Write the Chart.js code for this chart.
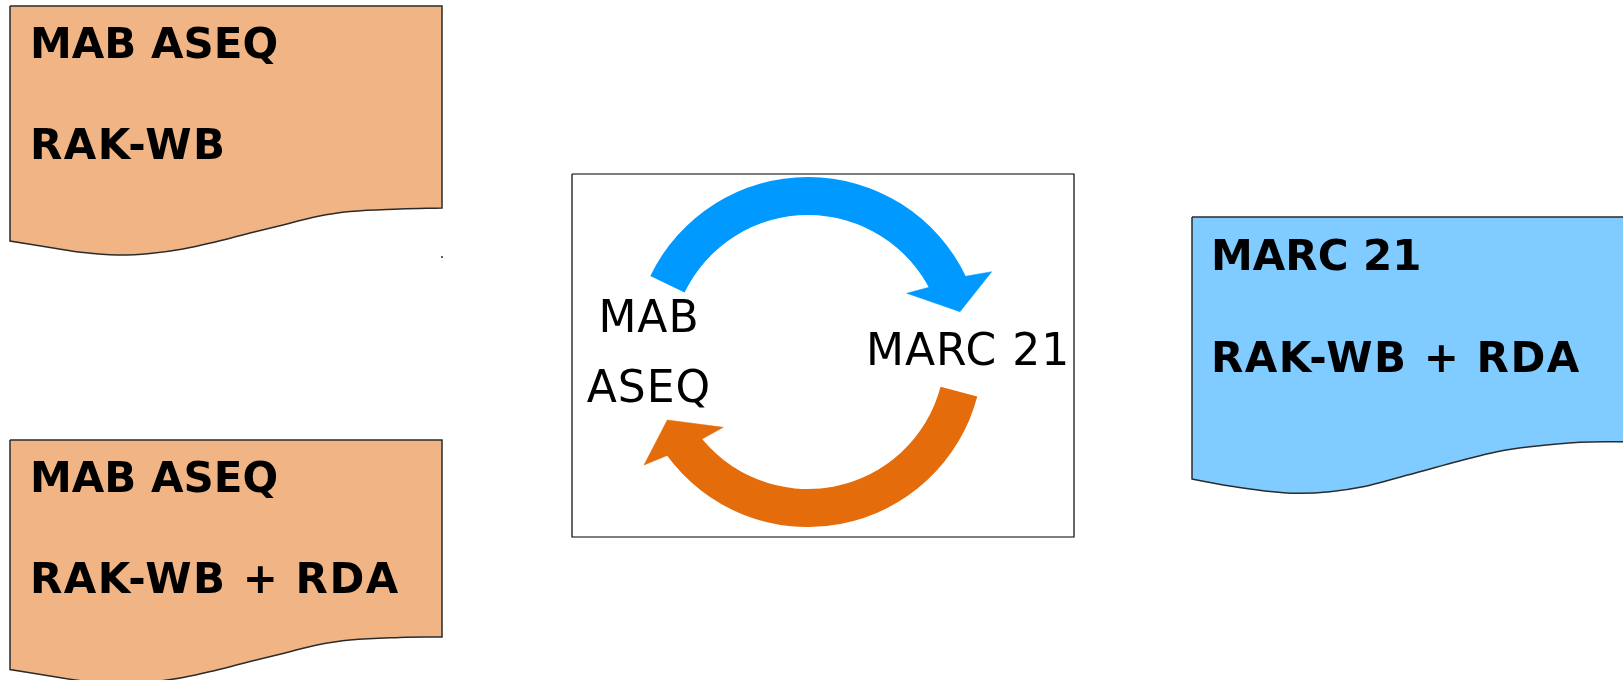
<!DOCTYPE html>
<html>
<head>
<meta charset="utf-8">
<script src="https://cdn.jsdelivr.net/npm/chart.js@4.4.1/dist/chart.umd.min.js"></script>
<style>
  html, body { margin: 0; padding: 0; background: #fff; }
  #wrap { position: relative; width: 1623px; height: 680px; overflow: hidden; }
  #main { position: absolute; left: 0; top: 0; }
  #cycle { position: absolute; left: 633px; top: 177px; }
</style>
</head>
<body>
<div id="wrap">
  <canvas id="main" width="1623" height="680"></canvas>
  <canvas id="cycle" width="350" height="350"></canvas>
</div>
<script>
// outlines, in page pixels (x, y from top)
// corner points are listed twice so the curved lines keep sharp corners
const docTopLeft = [[10,6],[10,6],[442,6],[442,6],[442,208],[442,208],[400,209],[350,211.5],[317,216.5],[283,225],[250,233],[217,241.5],[183,249],[150,253.5],[117,255],[83,252.5],[50,247.5],[10,241],[10,241],[10,6]];
const docBottomLeft = [[10,440],[10,440],[442,440],[442,440],[442,637],[442,637],[400,637.5],[350,640],[317,645],[283,653.5],[250,661.5],[217,670],[183,677.5],[150,682],[117,683.5],[83,681],[50,676],[10,669.5],[10,669.5],[10,440]];
const docRight = [[1192,217],[1192,217],[1625,217],[1625,217],[1625,441.7],[1625,441.7],[1580,442.3],[1530,446.7],[1497,451.7],[1463,460],[1430,469],[1397,478],[1363,486.7],[1330,491.7],[1297,493.3],[1263,490.7],[1230,486],[1192,479],[1192,479],[1192,217]];
const centerFrame = [[572,174],[1074,174],[1074,537],[572,537],[572,174]];
const blueHead = [[930,287],[906.7,293.3],[960,311.7],[991.7,271.7],[967,276],[930,287]];
const orangeHead = [[701.7,439.3],[723.3,427.3],[667.3,420],[644,465],[666,456],[701.7,439.3]];
const strayDot = [[442,257]];

// texts
const boxTexts = [["MAB ASEQ", "RAK-WB"], ["MAB ASEQ", "RAK-WB + RDA"], ["MARC 21", "RAK-WB + RDA"]];
const cycleTexts = ["MAB", "ASEQ", "MARC 21"];

// cycle arrows: angular spans (degrees) of blue arc, gap, orange arc, gap
const cycleSteps = ["MAB → MARC 21", "", "MARC 21 → MAB", ""];
const arcSpans = [128.8, 40.2, 129.3, 61.7];

const PEACH = "#F1B585";
const SKY = "#80CBFF";
const BLUE = "#0099FF";
const ORANGE = "#E46C0A";
const EDGE = "#2b2b2b";

const toXY = pts => pts.map(([x, y]) => ({ x, y }));

const shape = (pts, fill, line, width, tension) => ({
  data: toXY(pts),
  showLine: true,
  fill: "shape",
  backgroundColor: fill,
  borderColor: line,
  borderWidth: width,
  pointRadius: 0,
  pointHoverRadius: 0,
  tension: tension || 0
});

const textPlugin = {
  id: "texts",
  afterDatasetsDraw(chart) {
    const { ctx, scales: { x, y } } = chart;
    ctx.save();
    ctx.fillStyle = "#000";
    ctx.textBaseline = "alphabetic";

    ctx.font = "bold 42px 'DejaVu Sans'";
    ctx.textAlign = "left";
    const boxAnchors = [[30, 58, 159], [30, 492, 593], [1211, 270, 372]];
    boxTexts.forEach((lines, i) => {
      const [bx, y1, y2] = boxAnchors[i];
      ctx.letterSpacing = "0px";
      ctx.fillText(lines[0], x.getPixelForValue(bx), y.getPixelForValue(y1));
      ctx.letterSpacing = "1.5px";
      ctx.fillText(lines[1], x.getPixelForValue(bx), y.getPixelForValue(y2));
    });

    ctx.font = "44px 'DejaVu Sans'";
    ctx.letterSpacing = "1px";
    ctx.textAlign = "center";
    ctx.fillText(cycleTexts[0], x.getPixelForValue(649), y.getPixelForValue(332));
    ctx.fillText(cycleTexts[1], x.getPixelForValue(649), y.getPixelForValue(402));
    ctx.textAlign = "left";
    ctx.fillText(cycleTexts[2], x.getPixelForValue(866), y.getPixelForValue(365));
    ctx.restore();
  }
};

new Chart(document.getElementById("main"), {
  type: "scatter",
  data: {
    datasets: [
      shape(blueHead, BLUE, BLUE, 0.5),
      shape(orangeHead, ORANGE, ORANGE, 0.5),
      { data: toXY(strayDot), pointRadius: 1, pointHoverRadius: 1, pointBackgroundColor: EDGE, pointBorderWidth: 0 },
      shape(centerFrame, "#fff", "#000", 1.2),
      shape(docRight, SKY, EDGE, 1.5, 0.4),
      shape(docBottomLeft, PEACH, EDGE, 1.5, 0.4),
      shape(docTopLeft, PEACH, EDGE, 1.5, 0.4)
    ]
  },
  options: {
    responsive: false,
    animation: false,
    events: [],
    layout: { padding: 0, autoPadding: false },
    plugins: { legend: { display: false }, tooltip: { enabled: false } },
    scales: {
      x: { type: "linear", min: 0, max: 1623, display: false },
      y: { type: "linear", min: 0, max: 680, reverse: true, display: false }
    }
  },
  plugins: [textPlugin]
});

new Chart(document.getElementById("cycle"), {
  type: "doughnut",
  data: {
    labels: cycleSteps,
    datasets: [{
      data: arcSpans,
      backgroundColor: [BLUE, "rgba(0,0,0,0)", ORANGE, "rgba(0,0,0,0)"],
      borderWidth: 0,
      hoverOffset: 0
    }]
  },
  options: {
    responsive: false,
    animation: false,
    events: [],
    rotation: -64.3,
    cutout: "78.3%",
    layout: { padding: 0 },
    plugins: { legend: { display: false }, tooltip: { enabled: false } }
  }
});
</script>
</body>
</html>
